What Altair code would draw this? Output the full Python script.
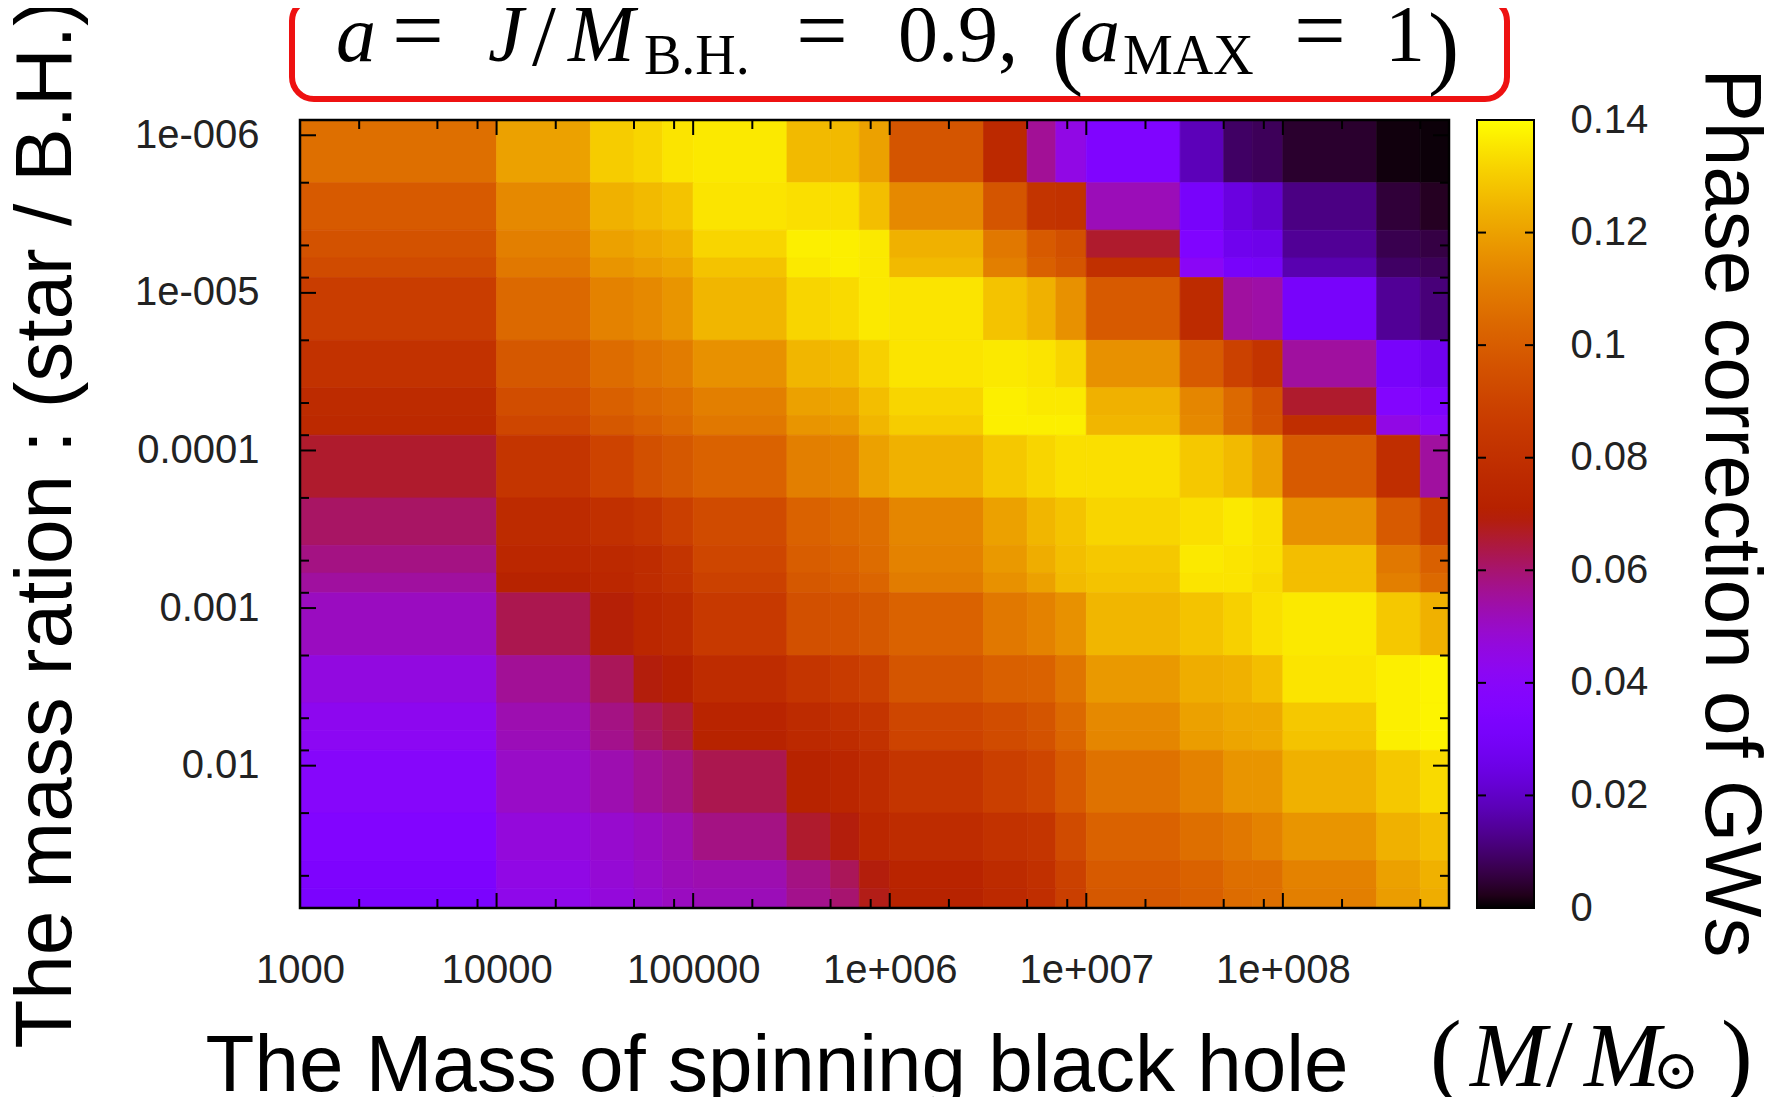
import altair as alt
import pandas as pd
import numpy as np

# ---------------- data ----------------
# cell edges (black-hole mass, x) and (mass ratio, y)
mass_edges = [1e3, 1e4, 3e4, 5e4, 7e4, 1e5, 3e5, 5e5, 7e5, 1e6, 3e6, 5e6, 7e6,
              1e7, 3e7, 5e7, 7e7, 1e8, 3e8, 5e8, 7e8]
ratio_edges = [8e-7, 2e-6, 4e-6, 6e-6, 8e-6, 2e-5, 4e-5, 6e-5, 8e-5, 2e-4, 4e-4,
               6e-4, 8e-4, 2e-3, 4e-3, 6e-3, 8e-3, 2e-2, 4e-2, 6e-2, 8e-2]

# phase correction, one list per ratio row (top -> bottom), one value per mass column
phase_r01 = [.106, .120, .130, .132, .135, .136, .126, .126, .120, .097, .076, .056, .045, .035, .018, .009, .008, .004, .0012, .0008]
phase_r02 = [.099, .114, .124, .126, .128, .135, .134, .134, .127, .114, .097, .082, .081, .052, .031, .024, .021, .012, .005, .003]
phase_r03 = [.096, .111, .120, .122, .124, .132, .137, .137, .136, .124, .109, .099, .095, .066, .035, .027, .026, .014, .007, .006]
phase_r04 = [.093, .109, .117, .119, .121, .128, .136, .137, .136, .126, .111, .101, .097, .080, .041, .031, .030, .017, .009, .008]
phase_r05 = [.087, .104, .112, .114, .117, .125, .132, .133, .136, .135, .128, .124, .116, .099, .077, .055, .054, .031, .014, .011]
phase_r06 = [.081, .098, .105, .108, .110, .116, .125, .126, .131, .135, .136, .135, .132, .116, .099, .089, .082, .055, .031, .027]
phase_r07 = [.077, .094, .101, .104, .106, .111, .120, .121, .127, .132, .137, .136, .136, .124, .113, .104, .095, .066, .037, .034]
phase_r08 = [.076, .091, .098, .101, .104, .109, .117, .118, .125, .130, .137, .137, .137, .125, .114, .104, .096, .079, .045, .040]
phase_r09 = [.066, .083, .090, .095, .098, .102, .111, .112, .120, .124, .129, .132, .134, .134, .129, .126, .120, .099, .079, .055]
phase_r10 = [.061, .077, .080, .083, .088, .093, .102, .104, .106, .113, .120, .125, .128, .132, .134, .136, .134, .116, .099, .087]
phase_r11 = [.058, .075, .076, .078, .082, .091, .100, .102, .105, .112, .118, .123, .127, .129, .136, .135, .134, .127, .109, .101]
phase_r12 = [.055, .072, .075, .078, .081, .089, .098, .100, .103, .110, .116, .120, .126, .128, .135, .135, .133, .127, .111, .104]
phase_r13 = [.051, .063, .070, .075, .077, .085, .095, .096, .098, .102, .109, .112, .116, .125, .128, .131, .134, .136, .129, .124]
phase_r14 = [.046, .056, .062, .069, .071, .078, .083, .086, .089, .097, .101, .102, .108, .118, .123, .124, .127, .135, .137, .138]
phase_r15 = [.043, .053, .058, .062, .065, .073, .077, .080, .083, .091, .094, .097, .104, .114, .120, .122, .122, .129, .137, .138]
phase_r16 = [.042, .052, .057, .061, .064, .072, .076, .078, .081, .090, .093, .096, .103, .113, .119, .121, .122, .128, .137, .138]
phase_r17 = [.039, .050, .053, .056, .058, .063, .072, .074, .078, .083, .088, .091, .099, .107, .112, .117, .117, .124, .129, .133]
phase_r18 = [.036, .047, .049, .051, .053, .058, .066, .069, .075, .078, .081, .083, .093, .102, .106, .109, .112, .117, .124, .127]
phase_r19 = [.034, .045, .048, .050, .052, .053, .058, .062, .069, .073, .077, .080, .089, .099, .102, .106, .106, .112, .120, .124]
phase_r20 = [.033, .044, .047, .049, .051, .052, .057, .060, .068, .072, .076, .079, .088, .098, .101, .105, .106, .111, .119, .123]
phase_rows = [phase_r01, phase_r02, phase_r03, phase_r04, phase_r05, phase_r06, phase_r07,
              phase_r08, phase_r09, phase_r10, phase_r11, phase_r12, phase_r13, phase_r14,
              phase_r15, phase_r16, phase_r17, phase_r18, phase_r19, phase_r20]

# ticks and labels
x_label_values = [1e3, 1e4, 1e5, 1e6, 1e7, 1e8]
x_label_text = ["1000", "10000", "100000", "1e+006", "1e+007", "1e+008"]
x_minor_ticks = [2e3, 5e3, 8e3, 2e4, 5e4, 8e4, 2e5, 5e5, 8e5, 2e6, 5e6, 8e6,
                 2e7, 5e7, 8e7, 2e8, 5e8]
y_label_values = [1e-6, 1e-5, 1e-4, 1e-3, 1e-2]
y_label_text = ["1e-006", "1e-005", "0.0001", "0.001", "0.01"]
y_minor_ticks = [2e-6, 5e-6, 8e-6, 2e-5, 5e-5, 8e-5, 2e-4, 5e-4, 8e-4,
                 2e-3, 5e-3, 8e-3, 2e-2, 5e-2]
cbar_label_values = [0, 0.02, 0.04, 0.06, 0.08, 0.1, 0.12, 0.14]
cbar_tick_values = [0.02, 0.04, 0.06, 0.08, 0.1, 0.12]

x_title = "The Mass of spinning black hole"
y_title = "The mass ration : (star / B.H.)"
cbar_title = "Phase correction of GWs"

# ---------------- build table ----------------
records = []
for i, row in enumerate(phase_rows):
    for j, v in enumerate(row):
        records.append(dict(m0=mass_edges[j], m1=mass_edges[j + 1],
                            q0=ratio_edges[i], q1=ratio_edges[i + 1], phase=v))
df = pd.DataFrame(records)

# ---------------- styles ----------------
W, H = 1149, 788
SANS = "Liberation Sans"
SERIF = "Liberation Serif"
CB_X0, CB_X1 = 1177, 1234

# gnuplot default palette (rgbformulae 7,5,15)
N = 64
pal = []
for t in np.linspace(0, 1, N):
    r, g, b = np.sqrt(t), t ** 3, max(0.0, np.sin(2 * np.pi * t))
    pal.append("#%02x%02x%02x" % (int(round(r * 255)), int(round(g * 255)), int(round(b * 255))))
cdomain = [float(v) for v in np.linspace(0, 0.14, N)]
cscale = alt.Scale(domain=cdomain, range=pal, interpolate="rgb")

xscale = alt.Scale(type="log", domain=[1e3, 7e8], nice=False)
yscale = alt.Scale(type="log", domain=[8e-7, 8e-2], nice=False, reverse=True)


def expr_for(values, texts):
    parts = [f"abs(datum.value - {v}) < {v * 0.01} ? '{t}' : " for v, t in zip(values, texts)]
    return "".join(parts) + "''"


x_axis = alt.Axis(values=x_label_values, labelExpr=expr_for(x_label_values, x_label_text),
                  ticks=False, domain=False, grid=False, title=None,
                  labelFont=SANS, labelFontSize=40, labelColor="#222",
                  labelPadding=42, labelFlush=False, labelOverlap=False)
y_axis = alt.Axis(values=y_label_values, labelExpr=expr_for(y_label_values, y_label_text),
                  ticks=False, domain=False, grid=False, title=None,
                  labelFont=SANS, labelFontSize=40, labelColor="#222",
                  labelPadding=41, labelFlush=False, labelOverlap=False)

heat = alt.Chart(df).mark_rect(strokeWidth=0.7).encode(
    x=alt.X("m0:Q", scale=xscale, axis=x_axis),
    x2="m1:Q",
    y=alt.Y("q0:Q", scale=yscale, axis=y_axis),
    y2="q1:Q",
    color=alt.Color("phase:Q", scale=cscale, legend=None),
    stroke=alt.Stroke("phase:Q", scale=cscale, legend=None),
)


def xticks(values, length):
    d = pd.DataFrame({"m0": values})
    base = alt.Chart(d).mark_rule(color="black", strokeWidth=2)
    top = base.encode(x=alt.X("m0:Q", scale=xscale, axis=x_axis), y=alt.value(0), y2=alt.value(length))
    bot = base.encode(x=alt.X("m0:Q", scale=xscale, axis=x_axis), y=alt.value(H), y2=alt.value(H - length))
    return [top, bot]


def yticks(values, length):
    d = pd.DataFrame({"q0": values})
    base = alt.Chart(d).mark_rule(color="black", strokeWidth=2)
    left = base.encode(y=alt.Y("q0:Q", scale=yscale, axis=y_axis), x=alt.value(0), x2=alt.value(length))
    right = base.encode(y=alt.Y("q0:Q", scale=yscale, axis=y_axis), x=alt.value(W), x2=alt.value(W - length))
    return [left, right]


frame = alt.Chart(pd.DataFrame({"a": [0]})).mark_rect(
    filled=False, stroke="black", strokeWidth=2.5).encode(
    x=alt.value(0), x2=alt.value(W), y=alt.value(0), y2=alt.value(H))

main = alt.layer(heat, *xticks(x_label_values, 15), *xticks(x_minor_ticks, 9),
                 *yticks(y_label_values, 16), *yticks(y_minor_ticks, 9), frame)

# ---------------- colorbar ----------------
stops = [alt.GradientStop(color=c, offset=float(i) / (N - 1)) for i, c in enumerate(pal)]
cbar_rect = alt.Chart(pd.DataFrame({"a": [0]})).mark_rect(
    fill=alt.LinearGradient(gradient="linear", stops=stops, x1=0, x2=0, y1=1, y2=0),
    stroke="black", strokeWidth=2).encode(
    x=alt.value(CB_X0), x2=alt.value(CB_X1), y=alt.value(0), y2=alt.value(H))

cbscale = alt.Scale(domain=[0, 0.14], nice=False)
cb_axis = alt.Axis(orient="right", offset=CB_X1 - W, values=cbar_label_values, format="~g",
                   ticks=False, domain=False, grid=False, title=None,
                   labelFont=SANS, labelFontSize=40, labelColor="#222",
                   labelPadding=36, labelFlush=False, labelOverlap=False)
cbd = pd.DataFrame({"v": cbar_tick_values})
cb_left = alt.Chart(cbd).mark_rule(color="black", strokeWidth=2).encode(
    y=alt.Y("v:Q", scale=cbscale, axis=cb_axis), x=alt.value(CB_X0), x2=alt.value(CB_X0 + 9))
cb_right = alt.Chart(cbd).mark_rule(color="black", strokeWidth=2).encode(
    y=alt.Y("v:Q", scale=cbscale, axis=None), x=alt.value(CB_X1 - 9), x2=alt.value(CB_X1))


def txt(s, x, y, size, font=SERIF, style="normal", align="left",
        baseline="alphabetic", angle=0, color="black"):
    kw = dict(font=font, fontSize=size, fontStyle=style, align=align,
              baseline=baseline, color=color)
    if angle:
        kw["angle"] = angle
    return alt.Chart(pd.DataFrame({"t": [s]})).mark_text(**kw).encode(
        text="t:N", x=alt.value(x), y=alt.value(y))


box = alt.Chart(pd.DataFrame({"a": [0]})).mark_rect(
    filled=False, stroke="#ee1111", strokeWidth=6, cornerRadius=22).encode(
    x=alt.value(-8), x2=alt.value(1207), y=alt.value(-121), y2=alt.value(-21))

title_parts = [
    txt("a", 36, -59, 80, style="italic"),
    txt("=", 92, -59, 92),
    txt("J", 188, -59, 80, style="italic"),
    txt("/", 232, -55, 86),
    txt("M", 268, -59, 80, style="italic"),
    txt("B.H.", 344, -46, 56),
    txt("=", 496, -59, 92),
    txt("0.9,", 598, -59, 80),
    txt("(", 752, -43, 94),
    txt("a", 780, -59, 80, style="italic"),
    txt("MAX", 823, -46, 56),
    txt("=", 994, -59, 92),
    txt("1", 1085, -59, 80),
    txt(")", 1128, -43, 94),
]

labels = [
    txt(y_title, -229, 404, 80, font=SANS, align="center", angle=270),
    txt(cbar_title, 1406, 393, 80, font=SANS, align="center", angle=90),
    txt(x_title, 477, 971, 80, font=SANS, align="center"),
    txt("(", 1130, 966, 95),
    txt("M", 1170, 966, 92, style="italic"),
    txt("/", 1246, 966, 96),
    txt("M", 1284, 966, 92, style="italic"),
    txt("\u2299", 1376, 952, 56, font="DejaVu Serif", align="center", baseline="middle"),
    txt(")", 1421, 966, 95),
]

chart = alt.layer(main, cbar_rect, cb_left, cb_right, box, *title_parts, *labels).resolve_scale(
    y="independent"
).properties(
    width=W, height=H,
    autosize=alt.AutoSizeParams(type="none"),
    padding={"left": 292, "top": 112, "right": 330, "bottom": 189},
).configure_view(stroke=None)

chart.save("out.html", embed_options={"renderer": "svg", "actions": False})
